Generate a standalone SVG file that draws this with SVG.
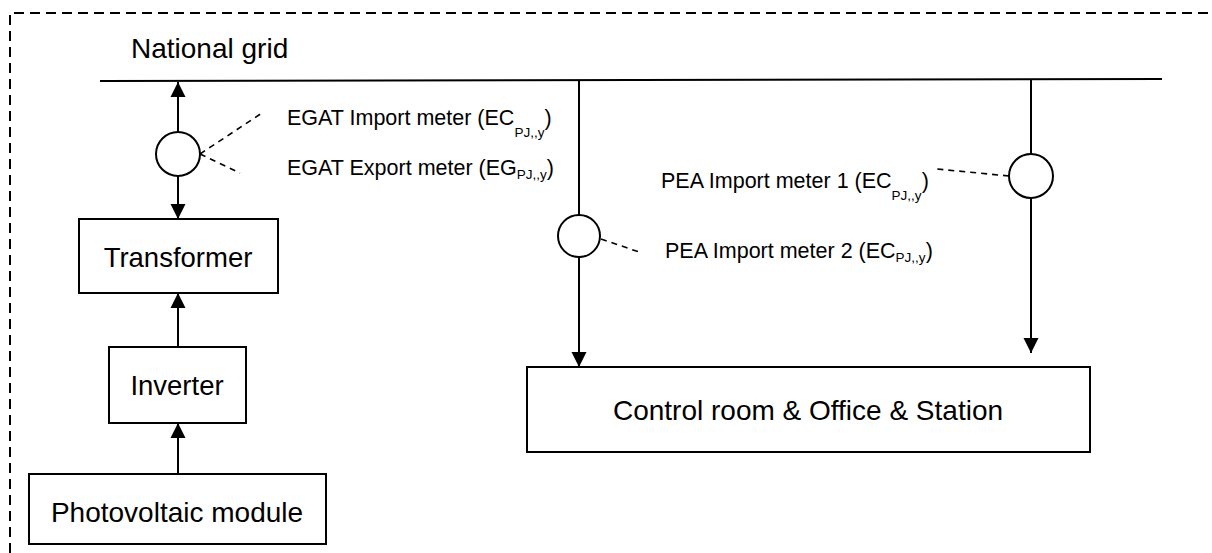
<svg xmlns="http://www.w3.org/2000/svg" width="1212" height="553" viewBox="0 0 1212 553">
<defs>
<marker id="arr" markerUnits="userSpaceOnUse" markerWidth="16" markerHeight="16" viewBox="0 0 16 16" refX="15" refY="8" orient="auto">
<path d="M0,0.5 L15,8 L0,15.5 Z" fill="#000"/>
</marker>
<style>
.ln{stroke:#000;stroke-width:2;fill:none}
.box{stroke:#000;stroke-width:2;fill:#fff}
.meter{stroke:#000;stroke-width:2;fill:#fff}
.lead{stroke:#000;stroke-width:1.6;fill:none;stroke-dasharray:6 5}
.border{stroke:#000;stroke-width:2;fill:none;stroke-dasharray:10 6}
.big{font-family:"Liberation Sans",Arial,sans-serif;font-size:27.5px;fill:#000}
.lbl{font-family:"Liberation Sans",Arial,sans-serif;font-size:21.5px;fill:#000}
.sub{font-size:13.5px}
</style>
</defs>
<path class="border" d="M10,553 V13 H1212"/>
<text class="big" x="131" y="58" style="font-size:28px">National grid</text>
<g id="connectors">
<line class="ln" x1="100" y1="81" x2="1162" y2="79"/>
<line class="ln" x1="178" y1="132" x2="178" y2="82" marker-end="url(#arr)"/>
<line class="ln" x1="178" y1="176" x2="178" y2="219" marker-end="url(#arr)"/>
<line class="ln" x1="178" y1="347" x2="178" y2="293" marker-end="url(#arr)"/>
<line class="ln" x1="178" y1="474" x2="178" y2="423" marker-end="url(#arr)"/>
<line class="ln" x1="579" y1="80" x2="579" y2="215"/>
<line class="ln" x1="579" y1="257" x2="579" y2="367" marker-end="url(#arr)"/>
<line class="ln" x1="1031" y1="79" x2="1031" y2="155"/>
<line class="ln" x1="1031" y1="197" x2="1031" y2="353" marker-end="url(#arr)"/>
<line class="lead" x1="200" y1="154" x2="262" y2="113"/>
<line class="lead" x1="200" y1="154" x2="240" y2="173"/>
<line class="lead" x1="601" y1="239" x2="642" y2="253"/>
<line class="lead" x1="1009" y1="176" x2="937" y2="169"/>
</g>
<g id="egat-meter">
<circle class="meter" cx="178" cy="154" r="22"/>
</g>
<g id="pea-meter-2">
<circle class="meter" cx="579" cy="236" r="21"/>
</g>
<g id="pea-meter-1">
<circle class="meter" cx="1031" cy="176" r="22"/>
</g>
<g id="transformer">
<rect class="box" x="79" y="219" width="199" height="74"/>
<text class="big" x="178" y="267" text-anchor="middle">Transformer</text>
</g>
<g id="inverter">
<rect class="box" x="109" y="347" width="137" height="76"/>
<text class="big" x="177" y="395" text-anchor="middle">Inverter</text>
</g>
<g id="pv-module">
<rect class="box" x="29" y="474" width="297" height="70"/>
<text class="big" x="177" y="522" text-anchor="middle" style="font-size:28px">Photovoltaic module</text>
</g>
<g id="control-room">
<rect class="box" x="527" y="367" width="563" height="85"/>
<text class="big" x="808" y="420" text-anchor="middle" style="font-size:28px">Control room &amp; Office &amp; Station</text>
</g>
<g id="labels">
<text class="lbl" x="287" y="125">EGAT Import meter (EC<tspan class="sub" dy="12">PJ,,y</tspan><tspan dy="-12">)</tspan></text>
<text class="lbl" x="287" y="175">EGAT Export meter (EG<tspan class="sub" dy="4">PJ,,y</tspan><tspan dy="-4">)</tspan></text>
<text class="lbl" x="661" y="188">PEA Import meter 1 (EC<tspan class="sub" dy="12">PJ,,y</tspan><tspan dy="-12">)</tspan></text>
<text class="lbl" x="665" y="258">PEA Import meter 2 (EC<tspan class="sub" dy="4">PJ,,y</tspan><tspan dy="-4">)</tspan></text>
</g>
</svg>
